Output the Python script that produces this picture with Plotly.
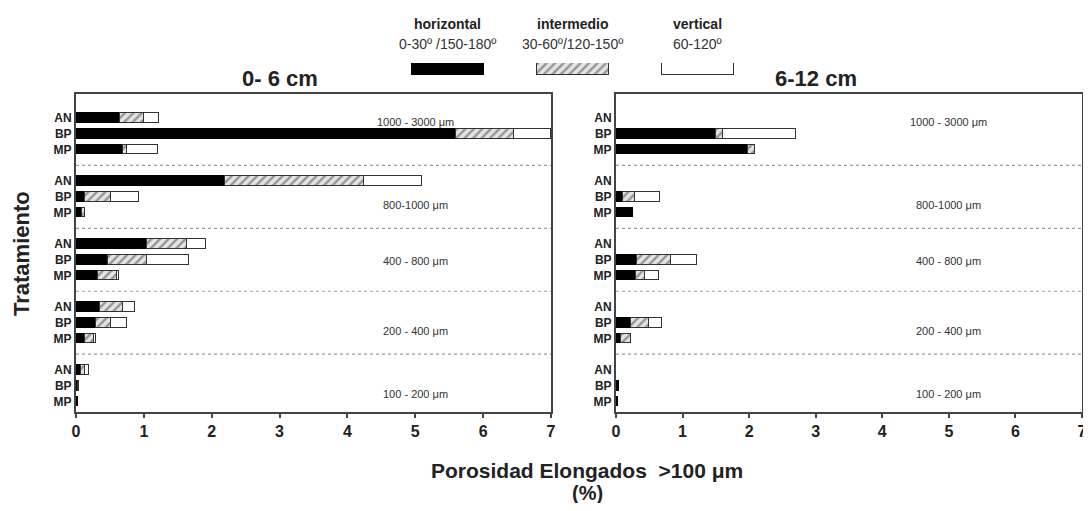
import plotly.graph_objects as go

# ---------------- data ----------------
size_classes = ["1000 - 3000 \u03bcm", "800-1000 \u03bcm", "400 - 800 \u03bcm", "200 - 400 \u03bcm", "100 - 200 \u03bcm"]
treatments = ["AN", "BP", "MP"]
orient_names = ["horizontal", "intermedio", "vertical"]
orient_ranges = ["0-30\u00ba /150-180\u00ba", "30-60\u00ba/120-150\u00ba", "60-120\u00ba"]
panel_titles = ["0- 6 cm", "6-12 cm"]

# 0-6 cm, rows ordered class by class (AN, BP, MP)
d06_horizontal = [0.65, 5.60, 0.69, 2.20, 0.13, 0.09, 1.05, 0.47, 0.32, 0.36, 0.30, 0.13, 0.07, 0.03, 0.03]
d06_intermedio = [0.35, 0.85, 0.06, 2.04, 0.38, 0.04, 0.59, 0.57, 0.29, 0.33, 0.21, 0.13, 0.06, 0.02, 0.0]
d06_vertical   = [0.23, 0.55, 0.46, 0.86, 0.42, 0.0, 0.27, 0.62, 0.03, 0.18, 0.24, 0.04, 0.06, 0.0, 0.0]

# 6-12 cm
d612_horizontal = [0.0, 1.50, 1.98, 0.0, 0.11, 0.25, 0.0, 0.32, 0.30, 0.0, 0.23, 0.07, 0.0, 0.04, 0.03]
d612_intermedio = [0.0, 0.11, 0.11, 0.0, 0.18, 0.0, 0.0, 0.51, 0.13, 0.0, 0.27, 0.15, 0.0, 0.0, 0.0]
d612_vertical   = [0.0, 1.10, 0.0, 0.0, 0.37, 0.0, 0.0, 0.38, 0.22, 0.0, 0.19, 0.01, 0.0, 0.0, 0.0]

x_ticks = [0, 1, 2, 3, 4, 5, 6, 7]

# ---------------- layout helpers ----------------
ROWS_PER_GROUP = 4  # 3 bars + 1 gap
ypos = []
ylab = []
for g in range(len(size_classes)):
    for r, t in enumerate(treatments):
        ypos.append(g * ROWS_PER_GROUP + r)
        ylab.append(t)

FONT = "Liberation Sans, Arial, sans-serif"
DARK = "#222222"

styles = {
    "horizontal": dict(color="#000000", line=dict(color="#000000", width=1)),
    "intermedio": dict(color="#d9d9d9", line=dict(color="#333333", width=1),
                       pattern=dict(shape="/", fgcolor="#444444", bgcolor="#e4e4e4", size=6, solidity=0.4)),
    "vertical": dict(color="#ffffff", line=dict(color="#333333", width=1)),
}


def nz(vals):
    return [v if v > 0 else None for v in vals]


fig = go.Figure()

panels = [
    ("x", "y", [d06_horizontal, d06_intermedio, d06_vertical]),
    ("x2", "y2", [d612_horizontal, d612_intermedio, d612_vertical]),
]
for xa, ya, series in panels:
    for name, vals in zip(orient_names, series):
        fig.add_trace(go.Bar(
            x=nz(vals), y=ypos, orientation="h", name=name,
            marker=styles[name], width=0.62, xaxis=xa, yaxis=ya,
            showlegend=False, hoverinfo="x+name",
        ))

# legend swatches as bars on a small hidden axis
for name in orient_names:
    fig.add_trace(go.Bar(
        x=[name], y=[1], base=0, marker=styles[name], width=0.58,
        xaxis="x3", yaxis="y3", showlegend=False, hoverinfo="skip",
    ))

# ---------------- geometry (page pixel coords; page body has 8px margin) ----------------
OFF = 8
W, H = 1091 - 2 * OFF, 511 - 2 * OFF
RIGHT_EDGE = 1082
ML, MT = 76 - OFF, 55 - OFF
MR = OFF + W - RIGHT_EDGE
MB = OFF + H - 412
pw = W - ML - MR
ph = H - MT - MB


def px_x(p):
    return (p - OFF - ML) / pw


def px_y(p):
    return (OFF + H - MB - p) / ph


main_top = px_y(94)
left_dom = [0, px_x(551)]
right_dom = [px_x(616), 1]

yrange = [(len(size_classes) * ROWS_PER_GROUP - 1) - 0.33, -1.53]

axis_common = dict(
    showline=True, linecolor="#444444", linewidth=2, mirror=True,
    showgrid=False, zeroline=False,
)

xaxis_common = dict(
    axis_common, range=[0, 7], tickvals=x_ticks, ticks="outside", ticklen=4,
    tickwidth=1.5, tickcolor="#444444", ticklabeloverflow="allow",
    tickfont=dict(family=FONT, size=16, color=DARK, weight="bold"),
)
yaxis_common = dict(
    axis_common, range=yrange, tickvals=ypos, ticktext=ylab, ticks="",
    tickfont=dict(family=FONT, size=12, color=DARK, weight="bold"),
    domain=[0, main_top],
)

fig.update_layout(
    width=W, height=H,
    margin=dict(l=ML, r=MR, t=MT, b=MB, autoexpand=False),
    paper_bgcolor="white", plot_bgcolor="white",
    barmode="stack", bargap=0,
    xaxis=dict(xaxis_common, domain=left_dom, anchor="y"),
    yaxis=dict(yaxis_common, anchor="x"),
    xaxis2=dict(xaxis_common, domain=right_dom, anchor="y2"),
    yaxis2=dict(yaxis_common, anchor="x2"),
    xaxis3=dict(domain=[px_x(385.5), px_x(759.5)], anchor="y3", visible=False,
                categoryorder="array", categoryarray=orient_names),
    yaxis3=dict(domain=[px_y(75), px_y(63)], anchor="x3", visible=False, range=[0, 1]),
    font=dict(family=FONT, color=DARK),
)

shapes = []
annotations = []

# dotted separators between size classes
for xa_ref, ya_ref in [("x domain", "y"), ("x2 domain", "y2")]:
    for g in range(1, len(size_classes)):
        yv = g * ROWS_PER_GROUP - 1
        shapes.append(dict(type="line", xref=xa_ref, yref=ya_ref, x0=0, x1=1, y0=yv, y1=yv,
                           line=dict(color="#9a9a9a", width=1.2, dash="dot")))

# size-class labels
label_rows = [0.25, 5.5, 9.1, 13.5, 17.5]
for xa, ya in [("x", "y"), ("x2", "y2")]:
    for lbl, yr in zip(size_classes, label_rows):
        annotations.append(dict(text=lbl, x=5.0, y=yr, xref=xa, yref=ya, showarrow=False,
                                xanchor="center", yanchor="middle",
                                font=dict(family=FONT, size=11, color="#333333")))

# panel titles
for xa, t in zip(["x", "x2"], panel_titles):
    annotations.append(dict(text=t, x=3.0, y=px_y(78), xref=xa, yref="paper", showarrow=False,
                            xanchor="center", yanchor="middle",
                            font=dict(family=FONT, size=22, color=DARK, weight="bold")))

# legend texts
for name, rng in zip(orient_names, orient_ranges):
    annotations.append(dict(text=name, x=name, y=px_y(24), xref="x3", yref="paper", showarrow=False,
                            xanchor="center", yanchor="middle",
                            font=dict(family=FONT, size=14, color=DARK, weight="bold")))
    annotations.append(dict(text=rng, x=name, y=px_y(44), xref="x3", yref="paper", showarrow=False,
                            xanchor="center", yanchor="middle",
                            font=dict(family=FONT, size=14, color="#333333")))

# axis titles
annotations.append(dict(text="Tratamiento", x=px_x(21), y=px_y(254), xref="paper", yref="paper",
                        textangle=-90, showarrow=False, xanchor="center", yanchor="middle",
                        font=dict(family=FONT, size=22, color=DARK, weight="bold")))
annotations.append(dict(text="Porosidad Elongados  >100 \u03bcm", x=px_x(587), y=px_y(470),
                        xref="paper", yref="paper", showarrow=False, xanchor="center", yanchor="middle",
                        font=dict(family=FONT, size=21, color=DARK, weight="bold")))
annotations.append(dict(text="(%)", x=px_x(587), y=px_y(493),
                        xref="paper", yref="paper", showarrow=False, xanchor="center", yanchor="middle",
                        font=dict(family=FONT, size=20, color=DARK, weight="bold")))

fig.update_layout(shapes=shapes, annotations=annotations)

fig.write_html("out.html")
